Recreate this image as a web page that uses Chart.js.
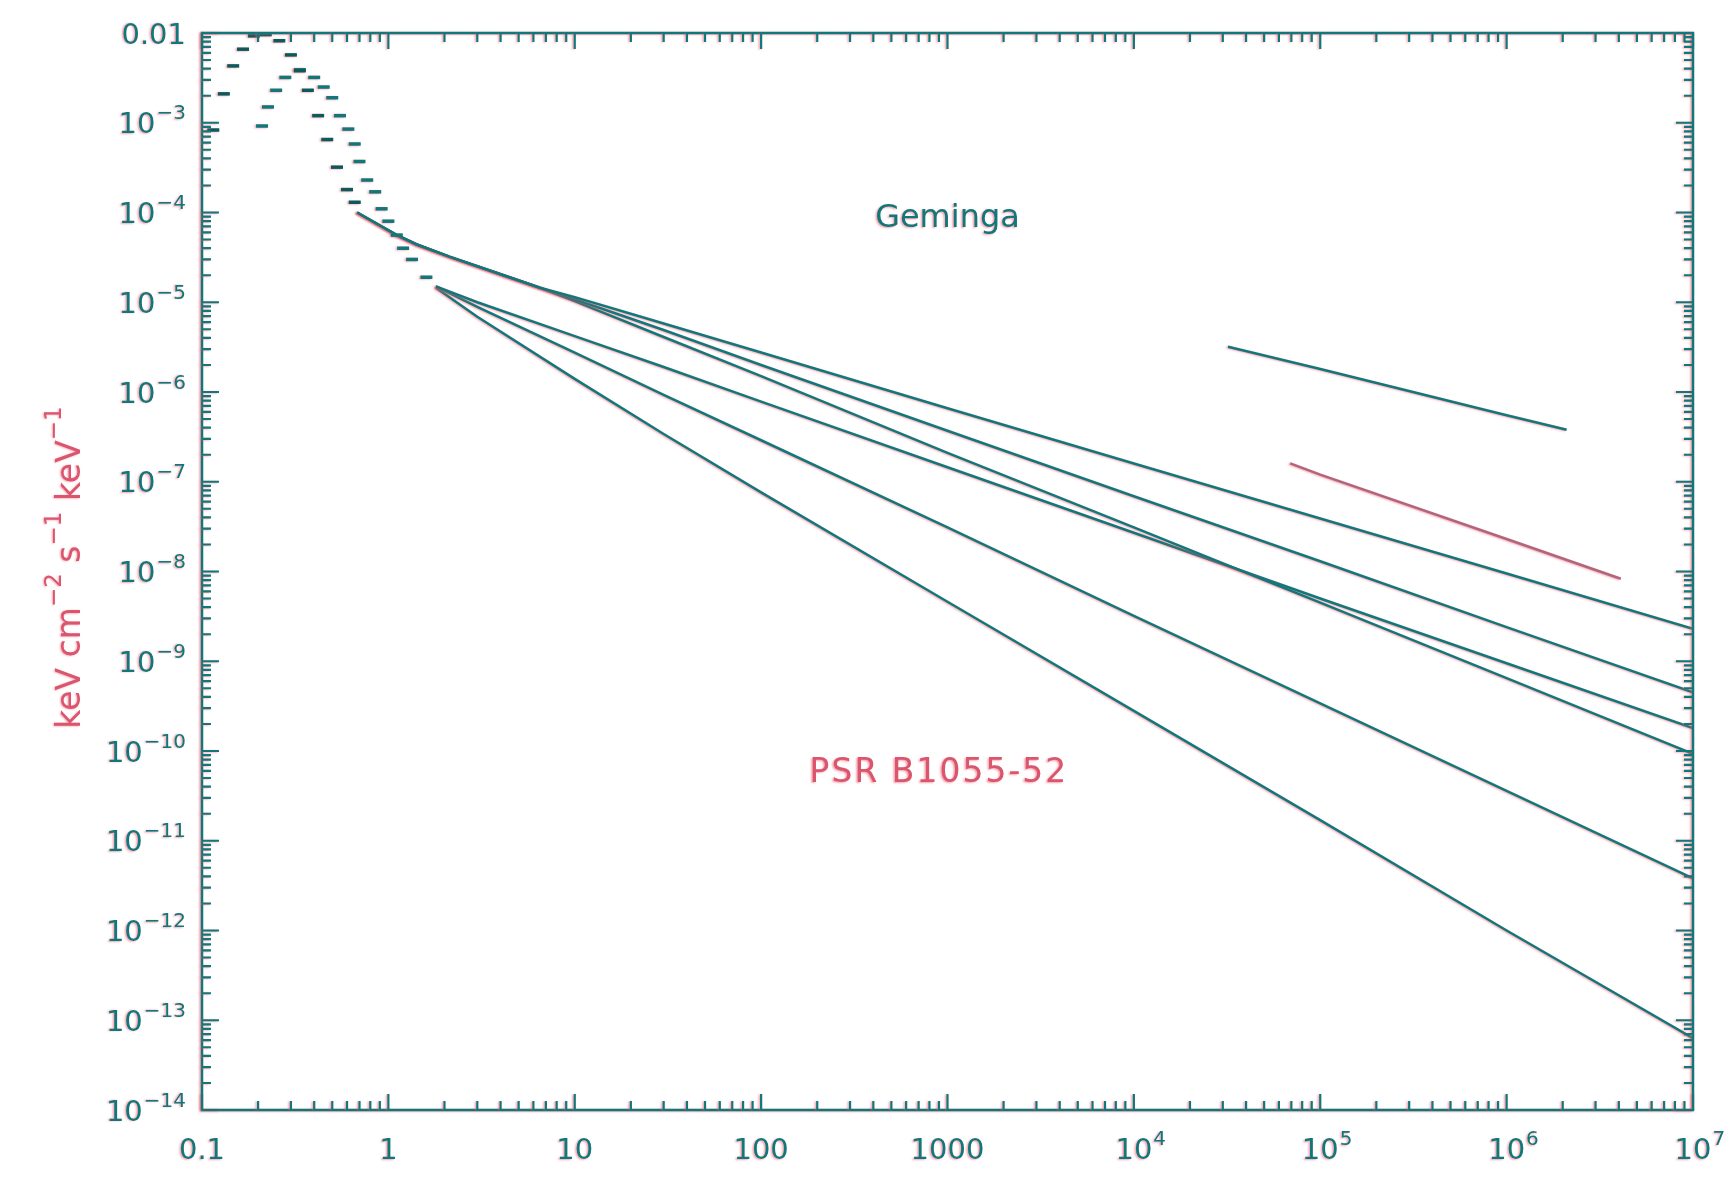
<!DOCTYPE html>
<html>
<head>
<meta charset="utf-8">
<script src="https://cdn.jsdelivr.net/npm/chart.js@4.4.1/dist/chart.umd.min.js"></script>
<style>
  html, body { margin: 0; padding: 0; background: #ffffff; }
  #wrap { width: 1731px; height: 1199px; }
</style>
</head>
<body>
<div id="wrap"><canvas id="c" width="1731" height="1199"></canvas></div>
<script>
// ---------- axis ticks (value, label base, label exponent) ----------
const xTickValues = [0.1, 1, 10, 100, 1000, 1e4, 1e5, 1e6, 1e7];
const xTickBase   = ['0.1', '1', '10', '100', '1000', '10', '10', '10', '10'];
const xTickExp    = ['', '', '', '', '', '4', '5', '6', '7'];
const yTickValues = [1e-2, 1e-3, 1e-4, 1e-5, 1e-6, 1e-7, 1e-8, 1e-9, 1e-10, 1e-11, 1e-12, 1e-13, 1e-14];
const yTickBase   = ['0.01', '10', '10', '10', '10', '10', '10', '10', '10', '10', '10', '10', '10'];
const yTickExp    = ['', '−3', '−4', '−5', '−6', '−7', '−8', '−9', '−10', '−11', '−12', '−13', '−14'];
// y-axis title: pieces, superscript flags
const yTitleParts = ['keV cm', '−2', ' s', '−1', ' keV', '−1'];
const yTitleSup   = [false, true, false, true, false, true];

// ---------- Geminga: thermal bins (keV, flux) ----------
const gemThermalE = [0.115, 0.131, 0.147, 0.166, 0.19, 0.22, 0.26, 0.30, 0.335, 0.37, 0.42, 0.47, 0.53, 0.60, 0.66];
const gemThermalF = [8.3e-4, 2.1e-3, 4.3e-3, 6.6e-3, 9.3e-3, 9.6e-3, 8.2e-3, 5.7e-3, 3.8e-3, 2.3e-3, 1.2e-3, 6.5e-4, 3.2e-4, 1.8e-4, 1.3e-4];

// ---------- Geminga: three power-law continuations ----------
const gemLineE = [0.68, 1.11, 1.42, 2.14, 4, 6.5, 10, 30, 100, 1000, 1e4, 1e5, 1e6, 1e7];
const gemA_F = [1.0e-4, 5.6e-5, 4.4e-5, 3.2e-5, 2.05e-5, 1.45e-5, 1.14e-5, 5.8e-6, 2.75e-6, 6.6e-7, 1.6e-7, 3.9e-8, 9.5e-9, 2.3e-9];
const gemB_F = [1.0e-4, 5.6e-5, 4.4e-5, 3.2e-5, 2.05e-5, 1.45e-5, 1.08e-5, 4.9e-6, 2.0e-6, 3.7e-7, 6.9e-8, 1.3e-8, 2.4e-9, 4.5e-10];
const gemC_F = [1.0e-4, 5.6e-5, 4.4e-5, 3.2e-5, 2.05e-5, 1.45e-5, 1.03e-5, 4.1e-6, 1.5e-6, 2.1e-7, 3.1e-8, 4.5e-9, 6.5e-10, 9.3e-11];

// ---------- PSR B1055-52: thermal bins ----------
const psrThermalE = [0.21, 0.226, 0.25, 0.28, 0.335, 0.40, 0.45, 0.50, 0.55, 0.61, 0.66, 0.70, 0.77, 0.85, 0.92, 1.0, 1.11, 1.2, 1.34, 1.6];
const psrThermalF = [9.2e-4, 1.5e-3, 2.3e-3, 3.2e-3, 3.9e-3, 3.2e-3, 2.5e-3, 1.9e-3, 1.2e-3, 8.5e-4, 5.8e-4, 3.7e-4, 2.3e-4, 1.7e-4, 1.1e-4, 8.0e-5, 5.6e-5, 4.0e-5, 3.0e-5, 1.9e-5];

// ---------- PSR B1055-52: three power-law continuations ----------
const psrLineE = [1.8, 3, 10, 30, 100, 1000, 1e4, 1e5, 1e6, 1e7];
const psr1_F = [1.5e-5, 1.0e-5, 4.2e-6, 1.9e-6, 7.8e-7, 1.45e-7, 2.7e-8, 5.0e-9, 9.5e-10, 1.8e-10];
const psr2_F = [1.5e-5, 8.9e-6, 2.75e-6, 9.3e-7, 2.9e-7, 3.1e-8, 3.2e-9, 3.4e-10, 3.6e-11, 3.8e-12];
const psr3_F = [1.45e-5, 6.9e-6, 1.4e-6, 3.4e-7, 7.6e-8, 4.6e-9, 2.8e-10, 1.7e-11, 1.0e-12, 6.3e-14];

// ---------- short high-energy segments ----------
const shortTealE = [3.2e4, 1e5, 1e6, 2.1e6];
const shortTealF = [3.2e-6, 1.8e-6, 5.5e-7, 3.8e-7];
const shortPinkE = [6.9e4, 1e5, 1e6, 4.1e6];
const shortPinkF = [1.6e-7, 1.2e-7, 2.3e-8, 8.3e-9];

// ---------- text labels ----------
const gemLabel = { text: 'Geminga', x: 1000, y: 8.5e-5 };
const psrLabel = { text: 'PSR B1055-52', x: 900, y: 5.6e-11 };

// ---------- styles ----------
const TEAL = '#12777a';
const DARK = '#0d5a5c';
const PINK = '#d9566e';
const MAUVE = '#b0667a';
const SHADOW = 'rgba(240, 85, 105, 0.55)';
const FONT = '"DejaVu Sans", "Liberation Sans", sans-serif';

function pts(E, F) { return E.map((e, i) => ({ x: e, y: F[i] })); }

function dashSet(E, F, color) {
  return {
    data: pts(E, F), showLine: false,
    pointStyle: 'line', pointRadius: 6, pointBorderWidth: 3.5,
    pointBorderColor: color, pointBackgroundColor: color, borderColor: color
  };
}
function lineSet(E, F, color) {
  return {
    data: pts(E, F), showLine: true, borderColor: color, borderWidth: 2.5,
    pointRadius: 0, tension: 0, fill: false
  };
}

function idxOf(values, v) {
  return values.findIndex(t => Math.abs(Math.log10(t) - Math.log10(v)) < 1e-6);
}

const BASE_PX = 29, EXP_PX = 20, EXP_RAISE = 14;

const framePlugin = {
  id: 'frame',
  beforeDraw(chart) {
    const ctx = chart.ctx;
    ctx.shadowColor = 'rgba(0,0,0,0)'; ctx.shadowBlur = 0; ctx.shadowOffsetX = 0; ctx.shadowOffsetY = 0;
    ctx.save();
    ctx.fillStyle = '#ffffff';
    ctx.fillRect(0, 0, chart.width, chart.height);
    ctx.restore();
    ctx.shadowColor = SHADOW; ctx.shadowBlur = 2; ctx.shadowOffsetX = -1.5; ctx.shadowOffsetY = 0.5;
  },
  afterDatasetsDraw(chart) {
    const ctx = chart.ctx;
    const a = chart.chartArea;
    const xs = chart.scales.x, ys = chart.scales.y;
    ctx.save();
    ctx.strokeStyle = TEAL;
    ctx.lineWidth = 2.5;
    ctx.strokeRect(a.left, a.top, a.right - a.left, a.bottom - a.top);
    ctx.lineWidth = 2.2;
    ctx.beginPath();
    for (let d = -1; d <= 7; d++) {
      for (let k = 1; k <= 9; k++) {
        const v = k * Math.pow(10, d);
        if (v < 0.0999 || v > 1.001e7) continue;
        const px = xs.getPixelForValue(v);
        const len = k === 1 ? 16 : 9;
        ctx.moveTo(px, a.bottom); ctx.lineTo(px, a.bottom - len);
        ctx.moveTo(px, a.top); ctx.lineTo(px, a.top + len);
      }
    }
    for (let d = -14; d <= -2; d++) {
      for (let k = 1; k <= 9; k++) {
        const v = k * Math.pow(10, d);
        if (v < 0.999e-14 || v > 1.001e-2) continue;
        const py = ys.getPixelForValue(v);
        const len = k === 1 ? 17 : 9;
        ctx.moveTo(a.left, py); ctx.lineTo(a.left + len, py);
        ctx.moveTo(a.right, py); ctx.lineTo(a.right - len, py);
      }
    }
    ctx.stroke();

    // tick labels from the scales' ticks
    ctx.fillStyle = TEAL;
    ctx.textBaseline = 'alphabetic';
    ctx.textAlign = 'left';
    const baseFont = BASE_PX + 'px ' + FONT, expFont = EXP_PX + 'px ' + FONT;
    xs.ticks.forEach(t => {
      const i = idxOf(xTickValues, t.value);
      if (i < 0) return;
      const px = xs.getPixelForValue(t.value);
      const yb = a.bottom + 49;
      ctx.font = baseFont;
      const wb = ctx.measureText(xTickBase[i]).width;
      ctx.fillText(xTickBase[i], px - wb / 2, yb);
      if (xTickExp[i]) {
        ctx.font = expFont;
        ctx.fillText(xTickExp[i], px + wb / 2 + 1, yb - EXP_RAISE);
      }
    });
    const rightX = a.left - 16;
    ys.ticks.forEach(t => {
      const i = idxOf(yTickValues, t.value);
      if (i < 0) return;
      const py = ys.getPixelForValue(t.value);
      const yb = py + 10.5;
      ctx.font = expFont;
      const we = yTickExp[i] ? ctx.measureText(yTickExp[i]).width + 1 : 0;
      ctx.font = baseFont;
      const wb = ctx.measureText(yTickBase[i]).width;
      ctx.fillText(yTickBase[i], rightX - we - wb, yb);
      if (yTickExp[i]) {
        ctx.font = expFont;
        ctx.fillText(yTickExp[i], rightX - we + 1, yb - EXP_RAISE);
      }
    });

    // y-axis title (rotated, with superscripts)
    ctx.save();
    ctx.fillStyle = PINK;
    const tBody = '33px ' + FONT, tSup = '23px ' + FONT;
    let total = 0;
    const widths = yTitleParts.map((p, i) => { ctx.font = yTitleSup[i] ? tSup : tBody; const w = ctx.measureText(p).width; total += w; return w; });
    ctx.translate(80, (a.top + a.bottom) / 2 - 4);
    ctx.rotate(-Math.PI / 2);
    let xp = -total / 2;
    yTitleParts.forEach((p, i) => {
      ctx.font = yTitleSup[i] ? tSup : tBody;
      ctx.fillText(p, xp, yTitleSup[i] ? -19 : 0);
      xp += widths[i];
    });
    ctx.restore();

    // annotations
    ctx.textAlign = 'center';
    ctx.textBaseline = 'middle';
    ctx.font = '32px ' + FONT;
    ctx.fillStyle = TEAL;
    ctx.fillText(gemLabel.text, xs.getPixelForValue(gemLabel.x), ys.getPixelForValue(gemLabel.y));
    ctx.font = '33px ' + FONT;
    ctx.letterSpacing = '2px';
    ctx.fillStyle = PINK;
    ctx.fillText(psrLabel.text, xs.getPixelForValue(psrLabel.x), ys.getPixelForValue(psrLabel.y));
    ctx.letterSpacing = '0px';
    ctx.restore();
  },
  afterDraw(chart) {
    const ctx = chart.ctx;
    ctx.shadowColor = 'rgba(0,0,0,0)'; ctx.shadowBlur = 0; ctx.shadowOffsetX = 0; ctx.shadowOffsetY = 0;
  }
};

new Chart(document.getElementById('c'), {
  type: 'scatter',
  data: {
    datasets: [
      dashSet(gemThermalE, gemThermalF, DARK),
      dashSet(psrThermalE, psrThermalF, TEAL),
      lineSet(gemLineE, gemA_F, TEAL),
      lineSet(gemLineE, gemB_F, TEAL),
      lineSet(gemLineE, gemC_F, TEAL),
      lineSet(psrLineE, psr1_F, TEAL),
      lineSet(psrLineE, psr2_F, TEAL),
      lineSet(psrLineE, psr3_F, TEAL),
      lineSet(shortTealE, shortTealF, TEAL),
      lineSet(shortPinkE, shortPinkF, MAUVE)
    ]
  },
  options: {
    responsive: false,
    animation: false,
    devicePixelRatio: 1,
    layout: { padding: { left: 0, right: 38, top: 33, bottom: 0 } },
    plugins: { legend: { display: false }, tooltip: { enabled: false } },
    scales: {
      x: {
        type: 'logarithmic', position: 'bottom', min: 0.1, max: 1e7,
        grid: { display: false, drawTicks: false }, border: { display: false },
        afterBuildTicks: s => { s.ticks = xTickValues.map(v => ({ value: v })); },
        afterFit: s => { s.height = 89; },
        ticks: { display: false, autoSkip: false }
      },
      y: {
        type: 'logarithmic', position: 'left', min: 1e-14, max: 1e-2,
        grid: { display: false, drawTicks: false }, border: { display: false },
        afterBuildTicks: s => { s.ticks = yTickValues.map(v => ({ value: v })); },
        afterFit: s => { s.width = 202; },
        ticks: { display: false, autoSkip: false }
      }
    }
  },
  plugins: [framePlugin]
});
</script>
</body>
</html>
